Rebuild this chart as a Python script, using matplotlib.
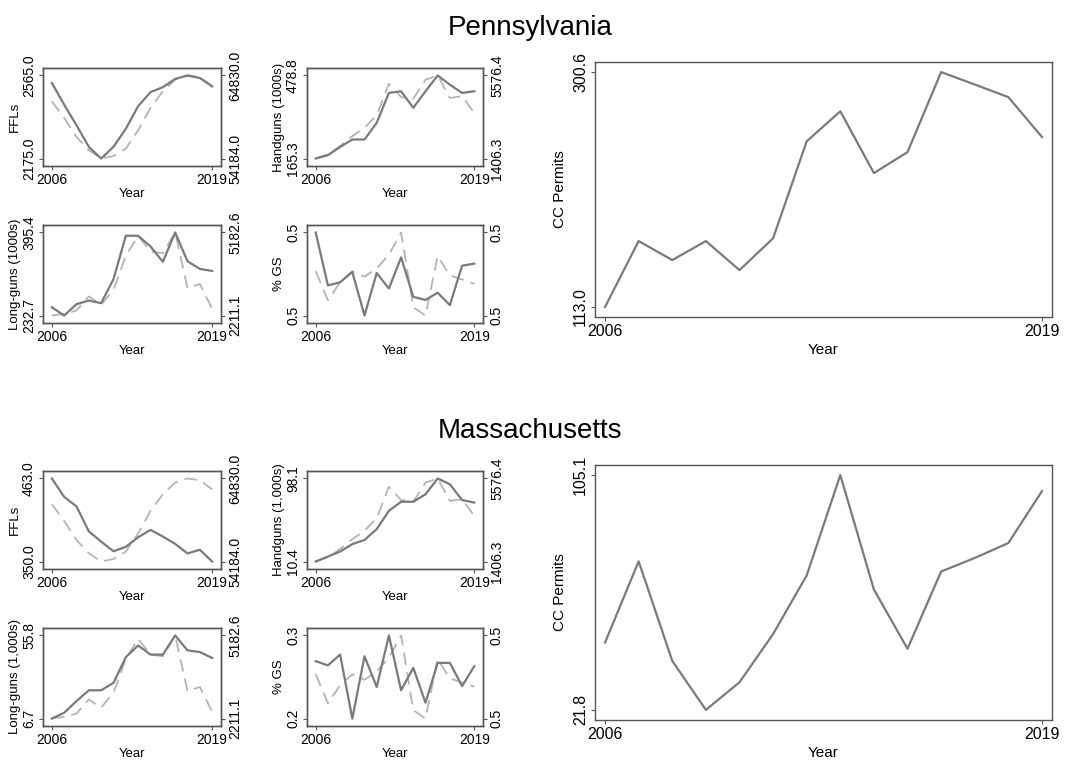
import matplotlib
matplotlib.use("Agg")
import matplotlib.pyplot as plt
from matplotlib.ticker import FormatStrFormatter

plt.rcParams['font.family'] = ['Liberation Sans', 'DejaVu Sans']

years = list(range(2006, 2020))

# national series (dashed, right axis), shared by both states
us_ffls = [61530, 59400, 56950, 55250, 54184, 54500, 55460, 57800, 60680, 62810, 64300, 64830, 64610, 63440]
us_handguns = [1406.3, 1615, 2032, 2532, 2949, 3575, 5160, 4492, 4408, 5368, 5576.4, 4450, 4534, 3700]
us_longguns = [2211.1, 2270, 2390, 2895, 2600, 3132, 4350, 5060, 4500, 4440, 5182.6, 3190, 3340, 2450]
us_gs = [0.502, 0.481, 0.494, 0.502, 0.498, 0.504, 0.514, 0.530, 0.476, 0.470, 0.513, 0.499, 0.496, 0.493]

# Pennsylvania
pa_ffls = [2530, 2428, 2331, 2230, 2175, 2230, 2315, 2421, 2487, 2510, 2549, 2565, 2553, 2514]
pa_handguns = [165.3, 178, 209, 237, 237, 300, 413, 419, 357, 419, 478.8, 444, 413, 419]
pa_longguns = [249, 232.7, 255, 262, 257, 304, 389, 389, 368, 338, 395.4, 339, 324, 320]
pa_gs = [0.540, 0.489, 0.492, 0.502, 0.460, 0.501, 0.486, 0.516, 0.478, 0.475, 0.482, 0.470, 0.508, 0.510]
pa_cc = [113.0, 165.6, 150.4, 165.6, 142.4, 167.8, 245.3, 269.3, 219.9, 236.7, 300.6, 290.7, 280.6, 248.8]

# Massachusetts
ma_ffls = [463.0, 438, 425, 391, 377, 364, 370, 383, 393, 384, 374, 361, 366, 350.0]
ma_handguns = [10.4, 15.7, 20.9, 28.8, 33.2, 44.6, 63.9, 73.5, 73.5, 81.4, 98.1, 92.0, 75.3, 72.7]
ma_longguns = [6.7, 10.1, 17.0, 23.4, 23.4, 27.8, 43.0, 49.9, 44.5, 44.5, 55.8, 47.0, 46.0, 42.5]
ma_gs = [0.269, 0.264, 0.277, 0.200, 0.275, 0.238, 0.300, 0.234, 0.261, 0.219, 0.267, 0.267, 0.239, 0.263]
ma_cc = [45.7, 74.5, 39.2, 21.8, 31.6, 48.7, 69.5, 105.1, 64.5, 43.5, 70.9, 75.7, 81.0, 99.4]

W, H = 1068, 762
SOLID = '#7a7a7a'
DASHED = '#b4b4b4'
FRAME = '#555555'

fig = plt.figure(figsize=(W / 100, H / 100), dpi=100)


def box(l, t, r, b):
    return fig.add_axes([l / W, 1 - b / H, (r - l) / W, (b - t) / H])


def minmax_axis(ax, vals, pad):
    lo, hi = min(vals), max(vals)
    d = (hi - lo) * pad
    ax.set_ylim(lo - d, hi + d)
    ax.set_yticks([lo, hi])
    ax.yaxis.set_major_formatter(FormatStrFormatter('%.1f'))


def style(ax, size):
    for s in ax.spines.values():
        s.set_color(FRAME)
        s.set_linewidth(1.0)
    ax.tick_params(labelsize=size, length=3, width=0.8, color=FRAME, pad=2)
    for lab in ax.get_yticklabels():
        lab.set_rotation(90)
        lab.set_va('center')


def small_panel(l, t, r, b, vals, nat, ylabel):
    ax = box(l, t, r, b)
    ax.plot(years, vals, color=SOLID, lw=1.6, zorder=3)
    ax.set_xlim(2006 - 13 * 0.055, 2019 + 13 * 0.055)
    ax.set_xticks([2006, 2019])
    minmax_axis(ax, vals, 0.09)
    ax.set_xlabel('Year', fontsize=9.5, labelpad=1)
    ax.set_ylabel(ylabel, fontsize=9.5, labelpad=1)
    ax2 = ax.twinx()
    ax2.plot(years, nat, color=DASHED, lw=1.3, dashes=(7, 4))
    minmax_axis(ax2, nat, 0.09)
    ax.set_zorder(ax2.get_zorder() + 1)
    ax.patch.set_visible(False)
    style(ax, 10)
    style(ax2, 10)


def big_panel(l, t, r, b, vals):
    ax = box(l, t, r, b)
    ax.plot(years, vals, color=SOLID, lw=1.6)
    ax.set_xlim(2006 - 13 * 0.023, 2019 + 13 * 0.023)
    ax.set_xticks([2006, 2019])
    minmax_axis(ax, vals, 0.043)
    ax.set_xlabel('Year', fontsize=11, labelpad=3)
    ax.set_ylabel('CC Permits', fontsize=11, labelpad=4)
    style(ax, 11.5)


def state_block(top, name, ffls, handguns, longguns, gs, cc, unit):
    fig.text(530 / W, 1 - (top - 40) / H, name, fontsize=20, ha='center', va='center')
    small_panel(43, top, 221, top + 98, ffls, us_ffls, 'FFLs')
    small_panel(307, top, 483, top + 98, handguns, us_handguns, 'Handguns (%s)' % unit)
    small_panel(43, top + 157, 221, top + 255, longguns, us_longguns, 'Long-guns (%s)' % unit)
    small_panel(307, top + 157, 483, top + 255, gs, us_gs, '% GS')
    big_panel(595, top - 6, 1052, top + 249, cc)


state_block(68, 'Pennsylvania', pa_ffls, pa_handguns, pa_longguns, pa_gs, pa_cc, '1000s')
state_block(471, 'Massachusetts', ma_ffls, ma_handguns, ma_longguns, ma_gs, ma_cc, '1,000s')

fig.savefig('out.png', dpi=100, facecolor='white')
